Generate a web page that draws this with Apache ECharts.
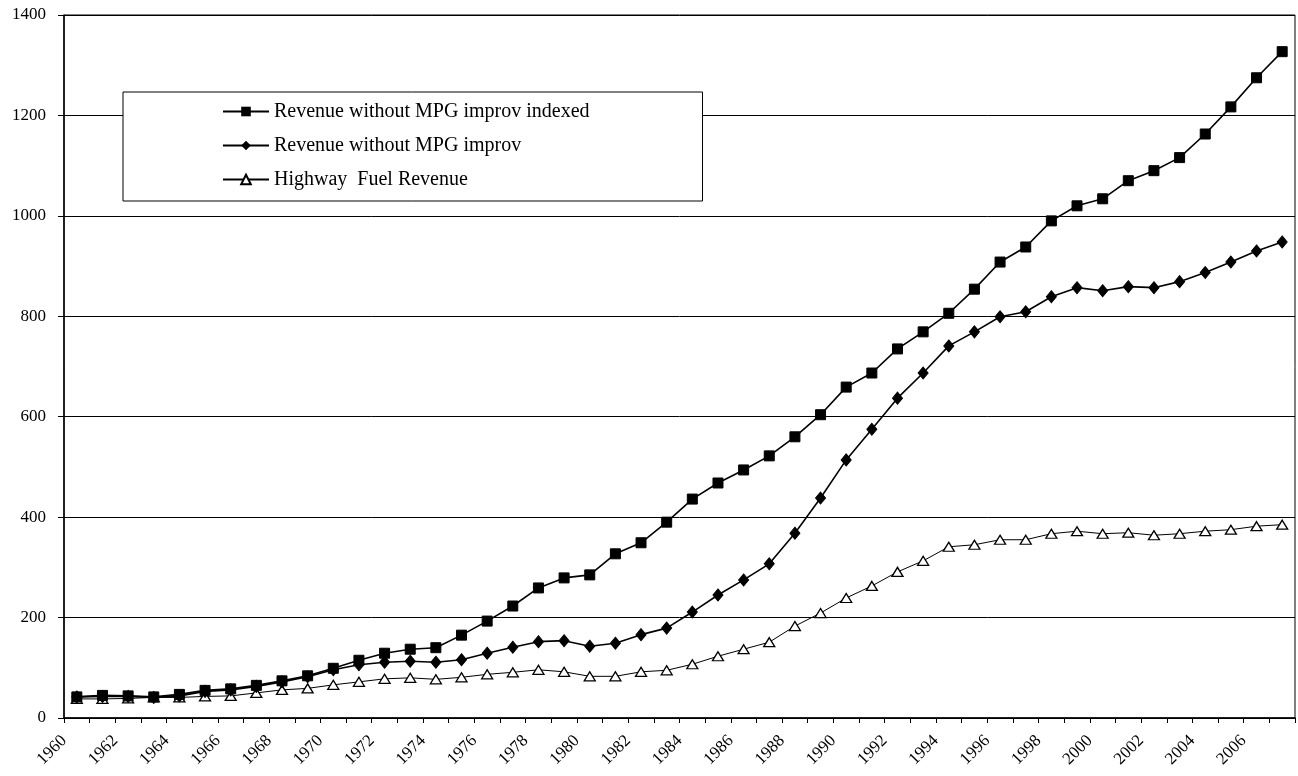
<!DOCTYPE html>
<html>
<head>
<meta charset="utf-8">
<script src="https://cdn.jsdelivr.net/npm/echarts@6/dist/echarts.min.js"></script>
<style>
html,body{margin:0;padding:0;background:#fff;}
#chart{width:1298px;height:776px;}
</style>
</head>
<body>
<div id="chart"></div>
<script>
// Categories (years)
const years = [];
for (let y = 1960; y <= 2007; y++) years.push(String(y));

// Tick labels shown under the axis (at category boundaries)
const tickLabels = ['1960','1962','1964','1966','1968','1970','1972','1974','1976','1978','1980','1982','1984','1986','1988','1990','1992','1994','1996','1998','2000','2002','2004','2006'];

// Series values
const revenueIndexed = [42,45,44,42,47,55,58,65,74,84,99,115,129,137,140,165,193,223,259,279,285,327,349,390,436,468,494,522,560,604,659,687,735,769,806,854,908,938,990,1020,1034,1070,1090,1116,1163,1217,1275,1327];
const revenueNoMpg = [42,43,43,41,44,53,56,63,72,82,96,106,111,113,111,116,129,141,152,154,143,149,166,179,211,245,275,307,368,438,514,575,637,687,741,769,799,809,839,857,851,859,857,869,887,908,930,948];
const highwayFuel = [38,38,39,41,41,43,44,50,56,59,66,72,78,80,77,81,87,91,96,92,83,83,92,95,107,123,137,151,183,209,239,263,291,313,341,345,355,355,367,372,367,369,364,367,372,375,382,385];

const seriesNames = ['Revenue without MPG improv indexed','Revenue without MPG improv','Highway  Fuel Revenue'];

const labelAxisData = years.concat(['2008']);
const serif = '"Liberation Serif", "Times New Roman", serif';

const chart = echarts.init(document.getElementById('chart'), null, {renderer: 'canvas'});
chart.setOption({
  animation: false,
  backgroundColor: '#fff',
  grid: {left: 64, right: 3, top: 15, bottom: 58, show: true, borderColor: '#000', borderWidth: 1, backgroundColor: 'transparent'},
  legend: {
    orient: 'vertical',
    left: 123, top: 92,
    padding: [9, 113, 11, 99],
    itemGap: 13,
    itemWidth: 46, itemHeight: 12,
    backgroundColor: '#fff',
    borderColor: '#000', borderWidth: 1,
    textStyle: {fontFamily: serif, fontSize: 20, color: '#000', lineHeight: 21},
    data: seriesNames
  },
  xAxis: [{
    type: 'category',
    data: years,
    boundaryGap: true,
    axisLine: {show: true, lineStyle: {color: '#000', width: 1.5}},
    axisTick: {show: true, interval: 0, length: 5, lineStyle: {color: '#000'}},
    axisLabel: {show: false},
    splitLine: {show: false}
  }, {
    type: 'category',
    data: labelAxisData,
    boundaryGap: false,
    position: 'bottom',
    axisLine: {show: false},
    axisTick: {show: false},
    splitLine: {show: false},
    axisLabel: {
      show: true, interval: 0, rotate: 45, margin: 20,
      fontFamily: serif, fontSize: 17, color: '#000',
      formatter: function (v) { return tickLabels.indexOf(v) >= 0 ? v : ''; }
    }
  }],
  yAxis: {
    type: 'value',
    min: 0, max: 1400, interval: 200,
    axisLine: {show: true, lineStyle: {color: '#000', width: 1.5}},
    axisTick: {show: true, length: 6, lineStyle: {color: '#000'}},
    axisLabel: {fontFamily: serif, fontSize: 17, color: '#000', margin: 18,
      formatter: function (v) { return String(v); }},
    splitLine: {show: true, lineStyle: {color: '#000', width: 1}}
  },
  series: [{
    name: seriesNames[0],
    type: 'line',
    xAxisIndex: 0,
    data: revenueIndexed,
    symbol: 'rect', symbolSize: 10,
    lineStyle: {color: '#000', width: 1.6},
    itemStyle: {color: '#000', borderColor: '#000'},
    z: 4
  }, {
    name: seriesNames[1],
    type: 'line',
    xAxisIndex: 0,
    data: revenueNoMpg,
    symbol: 'diamond', symbolSize: [10, 12],
    lineStyle: {color: '#000', width: 1.6},
    itemStyle: {color: '#000', borderColor: '#000'},
    z: 3
  }, {
    name: seriesNames[2],
    type: 'line',
    xAxisIndex: 0,
    data: highwayFuel,
    symbol: 'triangle', symbolSize: [11, 9],
    lineStyle: {color: '#000', width: 1},
    itemStyle: {color: '#fff', borderColor: '#000', borderWidth: 1.3},
    z: 2
  }]
});
</script>
</body>
</html>
